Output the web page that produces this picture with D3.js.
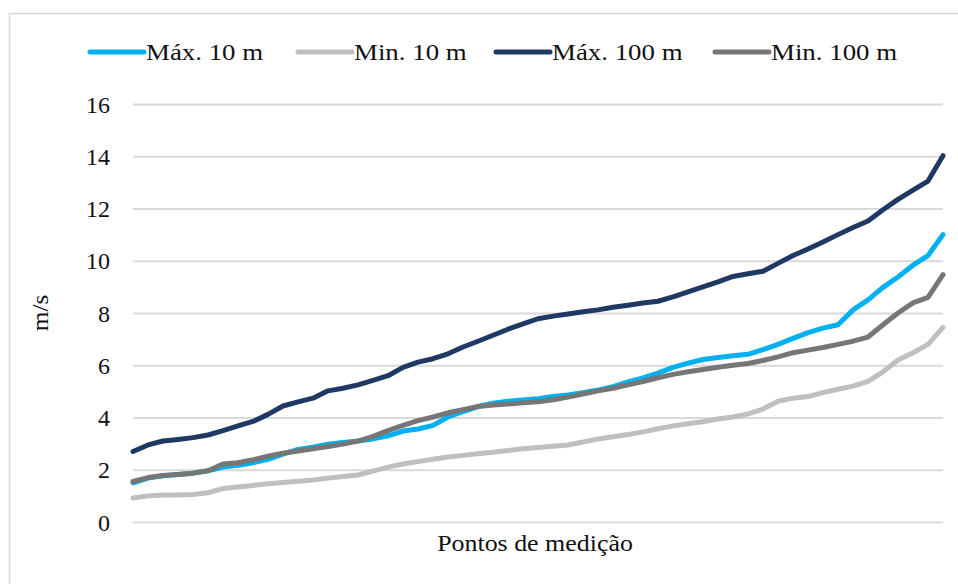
<!DOCTYPE html>
<html>
<head>
<meta charset="utf-8">
<script src="https://cdn.jsdelivr.net/npm/d3@7"></script>
<style>
	html, body { margin: 0; padding: 0; background: #fff; }
	svg { display: block; }
</style>
</head>
<body>
<div id="chart"></div>
<script>
const maxTen = [
	1.50, 1.68, 1.77, 1.82, 1.87, 1.96, 2.10, 2.17, 2.27, 2.40, 2.60, 2.78, 2.86, 2.98,
	3.04, 3.10, 3.18, 3.30, 3.48, 3.56, 3.70, 4.02, 4.22, 4.42, 4.55, 4.62, 4.67, 4.72,
	4.80, 4.86, 4.95, 5.05, 5.18, 5.36, 5.52, 5.70, 5.92, 6.08, 6.22, 6.30, 6.36, 6.42,
	6.60, 6.80, 7.03, 7.25, 7.42, 7.55, 8.12, 8.50, 8.98, 9.38, 9.83, 10.20, 11.00,
];
const minTen = [
	0.92, 1.00, 1.03, 1.03, 1.05, 1.12, 1.28, 1.34, 1.40, 1.46, 1.51, 1.56, 1.61, 1.68,
	1.74, 1.80, 1.95, 2.10, 2.22, 2.31, 2.40, 2.49, 2.55, 2.61, 2.67, 2.74, 2.80, 2.85,
	2.90, 2.95, 3.06, 3.18, 3.26, 3.35, 3.45, 3.57, 3.68, 3.76, 3.84, 3.94, 4.02, 4.14,
	4.32, 4.62, 4.74, 4.80, 4.95, 5.08, 5.20, 5.38, 5.75, 6.20, 6.48, 6.80, 7.45,
];
const maxHundred = [
	2.70, 2.95, 3.10, 3.16, 3.23, 3.33, 3.50, 3.68, 3.85, 4.12, 4.44, 4.60, 4.74, 5.02,
	5.12, 5.25, 5.42, 5.60, 5.92, 6.12, 6.25, 6.44, 6.70, 6.92, 7.15, 7.38, 7.58, 7.78,
	7.88, 7.96, 8.05, 8.12, 8.22, 8.30, 8.38, 8.45, 8.62, 8.81, 9.00, 9.19, 9.40, 9.50,
	9.60, 9.90, 10.20, 10.45, 10.72, 11.00, 11.27, 11.52, 11.95, 12.35, 12.70, 13.05, 14.02,
];
const minHundred = [
	1.55, 1.70, 1.78, 1.82, 1.87, 1.96, 2.22, 2.27, 2.38, 2.52, 2.63, 2.72, 2.80, 2.89,
	2.98, 3.10, 3.28, 3.50, 3.70, 3.88, 4.02, 4.18, 4.30, 4.42, 4.48, 4.52, 4.56, 4.60,
	4.68, 4.78, 4.90, 5.02, 5.12, 5.25, 5.38, 5.52, 5.65, 5.75, 5.84, 5.92, 6.00, 6.07,
	6.18, 6.32, 6.48, 6.58, 6.68, 6.80, 6.92, 7.08, 7.55, 8.00, 8.39, 8.60, 9.47,
];

const seriesNames = [ 'Máx. 10 m', 'Min. 10 m', 'Máx. 100 m', 'Min. 100 m' ];
const seriesColors = [ '#00b0f0', '#bfbfbf', '#1f3864', '#767676' ];
const yTicks = [ 0, 2, 4, 6, 8, 10, 12, 14, 16 ];
const xTitle = 'Pontos de medição';
const yTitle = 'm/s';

const seriesValues = [ maxTen, minTen, maxHundred, minHundred ];

const FONT = 'Liberation Serif';
const width = 958,
	height = 584;
const plot = { left: 133, right: 943, top: 104, bottom: 522 };

const svg = d3.select( '#chart' )
	.append( 'svg' )
	.attr( 'width', width )
	.attr( 'height', height );

// Chart area border (runs past the right and bottom edges of the picture)
svg.append( 'rect' )
	.attr( 'x', 9.5 )
	.attr( 'y', 13.5 )
	.attr( 'width', 1000 )
	.attr( 'height', 700 )
	.attr( 'fill', 'none' )
	.attr( 'stroke', '#d9d9d9' )
	.attr( 'stroke-width', 1.5 );

const x = d3.scalePoint()
	.domain( d3.range( maxTen.length ) )
	.range( [ plot.left, plot.right ] );

const y = d3.scaleLinear()
	.domain( [ 0, 16 ] )
	.range( [ plot.bottom, plot.top ] );

// Gridlines + tick labels through a left axis
const yAxis = svg.append( 'g' )
	.attr( 'transform', `translate(${ plot.left },0)` )
	.call(
		d3.axisLeft( y )
			.tickValues( yTicks )
			.tickSize( -( plot.right - plot.left ) )
			.tickPadding( 23 )
	)
	.attr( 'font-family', FONT )
	.attr( 'font-size', 24 );

yAxis.select( '.domain' ).remove();
yAxis.selectAll( '.tick line' )
	.attr( 'stroke', '#d9d9d9' )
	.attr( 'stroke-width', 2 );
yAxis.selectAll( '.tick text' )
	.attr( 'fill', '#111' )
	.attr( 'dy', '0.34em' )
	.style( 'font-family', FONT )
	.style( 'font-size', '24px' );

// Lines
const line = d3.line()
	.x( ( d, i ) => x( i ) )
	.y( ( d ) => y( d ) );

seriesValues.forEach( ( values, i ) => {
	svg.append( 'path' )
		.datum( values )
		.attr( 'fill', 'none' )
		.attr( 'stroke', seriesColors[ i ] )
		.attr( 'stroke-width', 5 )
		.attr( 'stroke-linejoin', 'round' )
		.attr( 'stroke-linecap', 'round' )
		.attr( 'd', line );
} );

// Axis titles
svg.append( 'text' )
	.attr( 'transform', 'translate(535,551) scale(1.08,1)' )
	.attr( 'text-anchor', 'middle' )
	.attr( 'fill', '#111' )
	.style( 'font-family', FONT )
	.style( 'font-size', '24px' )
	.text( xTitle );

svg.append( 'text' )
	.attr( 'transform', 'translate(48,313) rotate(-90) scale(1.05,1)' )
	.attr( 'text-anchor', 'middle' )
	.attr( 'fill', '#111' )
	.style( 'font-family', FONT )
	.style( 'font-size', '24px' )
	.text( yTitle );

// Legend
const legendX = [ 88, 296, 494, 713 ];
const legend = svg.append( 'g' );

seriesNames.forEach( ( name, i ) => {
	const g = legend.append( 'g' )
		.attr( 'transform', `translate(${ legendX[ i ] },52)` );
	g.append( 'line' )
		.attr( 'x1', 2 )
		.attr( 'x2', 56 )
		.attr( 'stroke', seriesColors[ i ] )
		.attr( 'stroke-width', 5 )
		.attr( 'stroke-linecap', 'round' );
	g.append( 'text' )
		.attr( 'transform', 'translate(58,8) scale(1.12,1)' )
		.attr( 'fill', '#111' )
		.style( 'font-family', FONT )
		.style( 'font-size', '24px' )
		.text( name );
} );
</script>
</body>
</html>
